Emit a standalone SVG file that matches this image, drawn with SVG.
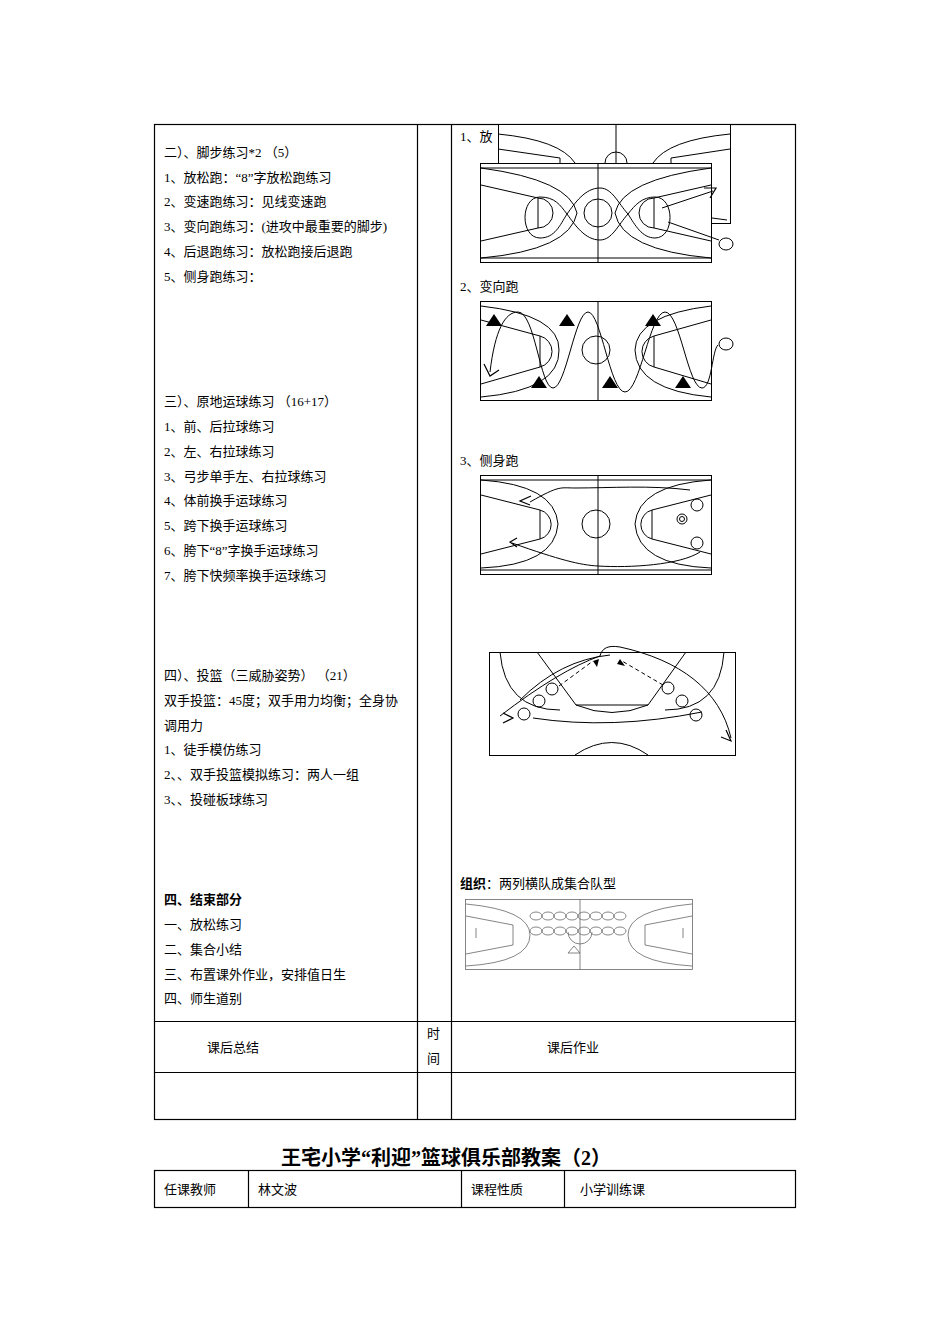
<svg xmlns="http://www.w3.org/2000/svg" width="950" height="1344" viewBox="0 0 950 1344">
<style>
text{font-family:"Liberation Serif","Noto Sans CJK SC",serif;font-size:13px;fill:#000}
text.title{font-size:20px;font-weight:bold}
.b{stroke:#000;stroke-width:1.2;fill:none}
.c{stroke:#000;stroke-width:1;fill:none}
.w{fill:#fff}
.t{fill:#000}
.g{stroke:#666;stroke-width:0.8;fill:none}
</style>
<rect width="950" height="1344" fill="#fff"/>
<g id="table" class="b">
<rect x="154.5" y="124.5" width="641" height="995"/>
<line x1="417.5" y1="124" x2="417.5" y2="1119"/>
<line x1="451.5" y1="124" x2="451.5" y2="1119"/>
<line x1="154" y1="1021.5" x2="795" y2="1021.5"/>
<line x1="154" y1="1072.5" x2="795" y2="1072.5"/>
<rect x="154.5" y="1170.5" width="641" height="37"/>
<line x1="248.5" y1="1170" x2="248.5" y2="1207"/>
<line x1="461.5" y1="1170" x2="461.5" y2="1207"/>
<line x1="564.5" y1="1170" x2="564.5" y2="1207"/>
</g>
<g id="left-text">
<text x="164" y="157">二）、脚步练习*2 （5）</text>
<text x="164" y="182">1、放松跑：“8”字放松跑练习</text>
<text x="164" y="206">2、变速跑练习：见线变速跑</text>
<text x="164" y="231">3、变向跑练习：(进攻中最重要的脚步)</text>
<text x="164" y="256">4、后退跑练习：放松跑接后退跑</text>
<text x="164" y="281">5、侧身跑练习：</text>
<text x="164" y="406">三）、原地运球练习 （16+17）</text>
<text x="164" y="431">1、前、后拉球练习</text>
<text x="164" y="456">2、左、右拉球练习</text>
<text x="164" y="481">3、弓步单手左、右拉球练习</text>
<text x="164" y="505">4、体前换手运球练习</text>
<text x="164" y="530">5、跨下换手运球练习</text>
<text x="164" y="555">6、胯下“8”字换手运球练习</text>
<text x="164" y="580">7、胯下快频率换手运球练习</text>
<text x="164" y="680">四）、投篮（三威胁姿势） （21）</text>
<text x="164" y="705">双手投篮：45度；双手用力均衡；全身协</text>
<text x="164" y="730">调用力</text>
<text x="164" y="754">1、徒手模仿练习</text>
<text x="164" y="779">2、、双手投篮模拟练习：两人一组</text>
<text x="164" y="804">3、、投碰板球练习</text>
<text x="164" y="904" font-weight="bold">四、结束部分</text>
<text x="164" y="929">一、放松练习</text>
<text x="164" y="954">二、集合小结</text>
<text x="164" y="979">三、布置课外作业，安排值日生</text>
<text x="164" y="1003">四、师生道别</text>
<text x="207" y="1052">课后总结</text>
<text x="427" y="1038">时</text>
<text x="427" y="1063">间</text>
<text x="547" y="1052">课后作业</text>
<text x="281" y="1165" class="title">王宅小学“利迎”篮球俱乐部教案（2）</text>
<text x="164" y="1194">任课教师</text>
<text x="258" y="1194">林文波</text>
<text x="471" y="1194">课程性质</text>
<text x="580" y="1194">小学训练课</text>
</g>
<g id="right-text">
<text x="460" y="141">1、放</text>
<text x="460" y="291">2、变向跑</text>
<text x="460" y="465">3、侧身跑</text>
<text x="460" y="888"><tspan font-weight="bold">组织</tspan>：两列横队成集合队型</text>
</g>
<g id="court1back">
<rect x="498.5" y="124.5" width="232" height="99" class="c w"/>
<line x1="616" y1="124" x2="616" y2="163" class="c"/>
<path d="M498 134 Q560 140 575 163 M498 149 L560 158 L560 163 M730 134 Q668 140 653 163 M730 149 L671 158 L671 163 M605 163 A11 11 0 0 1 627 163" class="c"/>
<path d="M712 218 L727 220" class="c"/>
</g>
<g id="court1">
<rect x="480.5" y="163.5" width="231" height="99" class="c w"/>
<line x1="481" y1="168" x2="711" y2="168" class="c"/>
<line x1="481" y1="258" x2="711" y2="258" class="c"/>
<line x1="598" y1="163" x2="598" y2="263" class="c"/>
<circle cx="598" cy="213" r="14" class="c"/>
<path d="M481 185 L538 198 M481 241 L538 228 M538 198 L538 228 M538 198 A15 15 0 0 1 538 228 M481 168 Q570 180 577 213 Q570 250 481 258" class="c"/>
<path d="M711 185 L654 198 M711 241 L654 228 M654 198 L654 228 M654 198 A15 15 0 0 0 654 228 M711 168 Q622 180 615 213 Q622 250 711 258" class="c"/>
<path d="M540,197 C555,197 560,205 567,214 C575,225 585,240 600,240 C612,240 618,225 628,214 C635,205 642,197 655,197 C675,197 675,238 655,238 C642,238 635,225 628,214 C618,203 612,188 600,188 C585,188 575,203 567,214 C560,225 555,238 540,238 C520,238 520,197 540,197 Z" class="c"/>
<path d="M662 208 L713 191 M668 222 L719 240" class="c"/>
<path d="M704 188 L716 188 L710 198" class="b" stroke-width="2"/>
<ellipse cx="726" cy="244" rx="7" ry="6" class="c"/>
</g>
<g id="court2">
<rect x="480.5" y="301.5" width="231" height="99" class="c"/>
<line x1="598" y1="301" x2="598" y2="400" class="c"/>
<circle cx="596" cy="350" r="14" class="c"/>
<path d="M481 320 L540 336 M481 384 L540 367 M540 336 L540 367 M540 336 A16 16 0 0 1 540 367 M481 306 Q560 315 559 350 Q560 390 481 397" class="c"/>
<path d="M711 320 L654 336 M711 384 L654 367 M654 336 L654 367 M654 336 A16 16 0 0 0 654 367 M711 306 Q636 315 635 350 Q636 390 711 397" class="c"/>
<path d="M490,372 C495,330 505,312 518,312 C535,312 540,388 553,388 C566,388 575,312 588,312 C601,312 610,392 625,392 C640,392 650,312 665,312 C680,312 688,388 702,388 C712,388 712,350 718,345" class="c"/>
<path d="M484 364 L490 376 L499 370" class="b" stroke-width="2"/>
<ellipse cx="726" cy="344" rx="7" ry="6" class="c"/>
<polygon points="494,314 486,326 502,326" class="t"/>
<polygon points="567,314 559,326 575,326" class="t"/>
<polygon points="653,314 645,326 661,326" class="t"/>
<polygon points="539,376 531,388 547,388" class="t"/>
<polygon points="610,376 602,388 618,388" class="t"/>
<polygon points="683,376 675,388 691,388" class="t"/>
</g>
<g id="court3">
<rect x="480.5" y="475.5" width="231" height="99" class="c"/>
<line x1="481" y1="480" x2="711" y2="480" class="c"/>
<line x1="481" y1="570" x2="711" y2="570" class="c"/>
<line x1="598" y1="475" x2="598" y2="575" class="c"/>
<circle cx="596" cy="524" r="14" class="c"/>
<path d="M481 495 L540 510 M481 554 L540 539 M540 510 L540 539 M540 510 A15 15 0 0 1 540 539 M481 480 Q555 485 558 524 Q555 565 481 568" class="c"/>
<path d="M711 495 L652 510 M711 554 L652 539 M652 510 L652 539 M652 510 A15 15 0 0 0 652 539 M711 480 Q638 485 635 524 Q638 565 711 568" class="c"/>
<path d="M530 502 C560 485 560 488 575 488 C610 488 650 485 690 490" class="c"/>
<path d="M512 543 C560 560 580 565 598 566 C630 568 680 565 700 552" class="c"/>
<path d="M531 496 L520 501 L530 505 M517 538 L510 542 L517 547" class="b" stroke-width="2"/>
<circle cx="697" cy="505" r="6" class="c"/>
<circle cx="697" cy="543" r="6" class="c"/>
<circle cx="682" cy="519" r="5" class="c"/>
<circle cx="682" cy="519" r="2.5" class="c"/>
</g>
<g id="court4">
<rect x="489.5" y="652.5" width="246" height="103" class="c"/>
<path d="M500 652 Q505 710 560 710" class="c"/>
<path d="M724 652 Q720 710 665 710" class="c"/>
<path d="M537 652 L576 705 L648 705 L686 652" class="c"/>
<path d="M576 705 Q612 720 648 705" class="c"/>
<path d="M520 700 Q560 660 610 655" class="c"/>
<path d="M533 718 Q612 730 702 712" class="c"/>
<path d="M575 755 Q612 730 648 755" class="c"/>
<path d="M500 716 Q560 670 600 656 C602 648 608 645 620 647 C680 660 720 690 731 738" class="c"/>
<path d="M559 686 L593 661 M663 685 L622 661" class="c" stroke-dasharray="4,3"/>
<polygon points="593,661 599,659 597,667" class="t"/>
<polygon points="620,659 625,666 617,664" class="t"/>
<path d="M503 713 L513 718 L503 723 M721 737 L731 741 L726 730" class="b" stroke-width="2"/>
<circle cx="552" cy="689" r="6" class="c"/>
<circle cx="539" cy="701" r="6" class="c"/>
<circle cx="524" cy="714" r="6" class="c"/>
<circle cx="668" cy="688" r="6" class="c"/>
<circle cx="682" cy="701" r="6" class="c"/>
<circle cx="696" cy="715" r="6" class="c"/>
</g>
<g id="court5">
<rect x="465.5" y="899.5" width="227" height="70" class="g"/>
<line x1="580" y1="899" x2="580" y2="970" class="g"/>
<path d="M466 904 Q530 910 530 935 Q530 962 466 966 M466 916 L513 925 L513 945 L466 954 M692 904 Q628 910 628 935 Q628 962 692 966 M692 916 L645 925 L645 945 L692 954 M568 932 A12 12 0 0 0 592 932" class="g"/>
<line x1="476" y1="928" x2="476" y2="938" class="g"/>
<line x1="683" y1="928" x2="683" y2="938" class="g"/>
<polygon points="574,946 568,953 580,953" class="g"/>
<g class="g">
<ellipse cx="536" cy="916" rx="6" ry="4"/><ellipse cx="548" cy="916" rx="6" ry="4"/><ellipse cx="560" cy="916" rx="6" ry="4"/><ellipse cx="572" cy="916" rx="6" ry="4"/><ellipse cx="584" cy="916" rx="6" ry="4"/><ellipse cx="596" cy="916" rx="6" ry="4"/><ellipse cx="608" cy="916" rx="6" ry="4"/><ellipse cx="620" cy="916" rx="6" ry="4"/>
<ellipse cx="536" cy="931" rx="6" ry="4"/><ellipse cx="548" cy="931" rx="6" ry="4"/><ellipse cx="560" cy="931" rx="6" ry="4"/><ellipse cx="572" cy="931" rx="6" ry="4"/><ellipse cx="584" cy="931" rx="6" ry="4"/><ellipse cx="596" cy="931" rx="6" ry="4"/><ellipse cx="608" cy="931" rx="6" ry="4"/><ellipse cx="620" cy="931" rx="6" ry="4"/>
</g>
</g>
</svg>
